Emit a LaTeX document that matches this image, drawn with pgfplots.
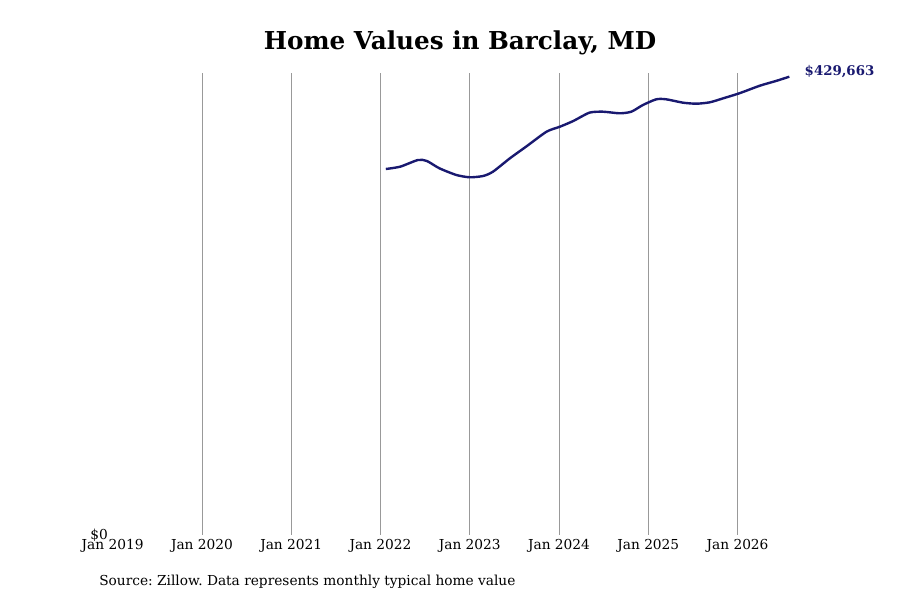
\documentclass[border=0pt]{standalone}
\usepackage{fontspec}
\setmainfont{DejaVu Serif}
\usepackage{pgfplots}
\pgfplotsset{compat=1.18}
\definecolor{navy}{HTML}{191970}
\definecolor{gridgray}{HTML}{999999}
\frenchspacing

\begin{document}
\begin{tikzpicture}
\useasboundingbox (0,0) rectangle (675pt,450pt);
\begin{axis}[
    at={(84.5pt,48.75pt)}, anchor=south west,
    scale only axis,
    width=507.5pt, height=346.5pt,
    xmin=2019, xmax=2026.58,
    ymin=0, ymax=433125,
    scaled y ticks=false,
    axis line style={draw=none},
    major tick length=0pt,
    xtick={2019,2020,2021,2022,2023,2024,2025,2026},
    xticklabels={Jan 2019,Jan 2020,Jan 2021,Jan 2022,Jan 2023,Jan 2024,Jan 2025,Jan 2026},
    extra x ticks={2020,2021,2022,2023,2024,2025,2026},
    extra x tick labels={},
    extra x tick style={grid=major, major grid style={gridgray, line width=0.6pt}},
    ytick={0}, yticklabels={\$0},
    xticklabel style={font=\fontsize{10.3}{12}\selectfont},
    yticklabel style={font=\fontsize{10.3}{12}\selectfont},
    clip=false,
]
\addplot[navy, line width=1.8pt, smooth, tension=0.4] coordinates {
(2022.06,343125) (2022.22,345281) (2022.42,351563) (2022.52,350625)
(2022.66,343781) (2022.85,337500) (2023.00,335344) (2023.15,336563)
(2023.26,340594) (2023.45,353156) (2023.63,364031) (2023.86,378094)
(2024.01,382781) (2024.16,388125) (2024.34,395906) (2024.49,396844)
(2024.68,395344) (2024.81,396844) (2024.94,403125) (2025.09,408469)
(2025.20,408469) (2025.39,405281) (2025.54,404344) (2025.69,405656)
(2025.84,409406) (2026.02,414094) (2026.25,421219) (2026.43,425625)
(2026.58,429663)
};
\node[anchor=west, text=navy, font=\fontsize{10}{12}\selectfont\bfseries, xshift=8pt, yshift=4pt]
    at (axis cs:2026.58,429663) {\$429,663};
\end{axis}
\node[font=\fontsize{18.5}{22}\selectfont\bfseries] at (345pt,417.75pt) {Home Values in Barclay, MD};
\node[anchor=west, font=\fontsize{10.3}{12}\selectfont, inner sep=0pt] at (74.25pt,13.5pt) {Source: Zillow. Data represents monthly typical home value};
\end{tikzpicture}
\end{document}
